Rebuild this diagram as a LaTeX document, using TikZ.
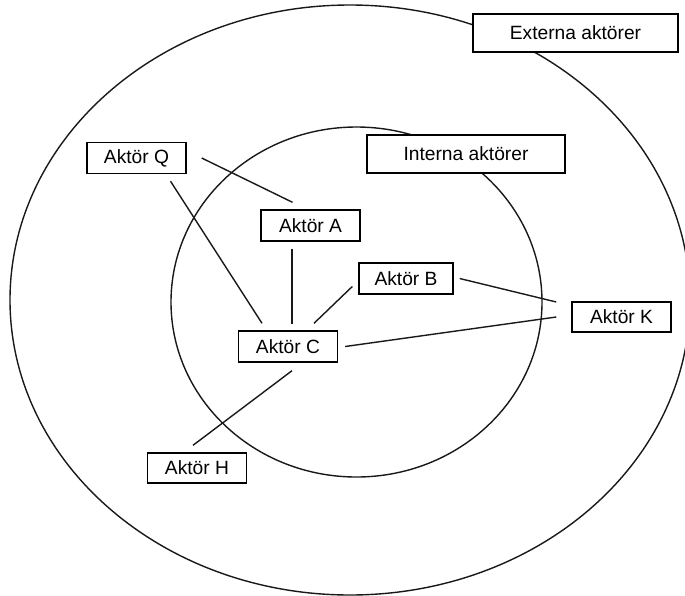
\documentclass[tikz,border=0pt]{standalone}
\usepackage{fontspec}
\setmainfont{Liberation Sans}
\begin{document}
\begin{tikzpicture}[x=1pt,y=-1pt,
  ln/.style={line width=1.4pt, color=black!90},
  box/.style={draw, line width=1.4pt, fill=white, inner sep=0pt,
    minimum width=99pt, minimum height=31pt,
    font=\fontsize{19.2pt}{22pt}\selectfont},
  bigbox/.style={box, minimum height=38pt}]
\useasboundingbox (0,0) rectangle (685,595);
\fill[white] (0,0) rectangle (685,595);
% ellipses
\draw[ln] (350,300) ellipse [x radius=340, y radius=295];
\draw[ln] (356.5,302) ellipse [x radius=185.5, y radius=175];
% nodes
\node[bigbox, minimum width=205pt] (ext) at (575.5,33) {Externa aktörer};
\node[bigbox, minimum width=198pt] (int) at (466,154) {Interna aktörer};
\node[box] (Q) at (136.5,158) {Aktör Q};
\node[box] (A) at (310.5,225.5) {Aktör A};
\node[box, minimum width=94pt] (B) at (406,278.5) {Aktör B};
\node[box] (C) at (288,346.5) {Aktör C};
\node[box, minimum height=30pt] (K) at (621.5,317) {Aktör K};
\node[box, minimum height=30pt] (H) at (197,468) {Aktör H};
% connectors
\draw[ln] ([shift={(15,0)}]Q.east) -- ([shift={(-18,-7)}]A.north);
\draw[ln] ([shift={(34,7)}]Q.south) -- ([shift={(-26,-7)}]C.north);
\draw[ln] ([shift={(-18.5,7)}]A.south) -- ([shift={(-18.5,-6)}]C.north -| A.south);
\draw[ln] ([shift={(-6,8)}]B.west) -- ([shift={(26,-7)}]C.north);
\draw[ln] ([shift={(7,0)}]C.east) -- ([shift={(-15,0)}]K.west);
\draw[ln] ([shift={(6,0)}]B.east) -- ([shift={(-15,-15)}]K.west);
\draw[ln] ([shift={(4,8)}]C.south) -- ([shift={(-4,-7)}]H.north);
\end{tikzpicture}
\end{document}
